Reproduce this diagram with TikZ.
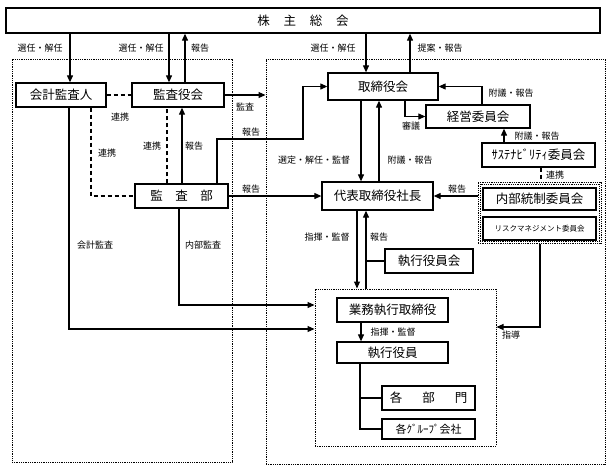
\documentclass[tikz,border=0pt]{standalone}
\usepackage{fontspec}
\newfontfamily\cjk{Noto Sans CJK JP}
\usetikzlibrary{arrows.meta}
\begin{document}
\begin{tikzpicture}[x=1pt,y=-1pt,
  box/.style={draw, line width=1.3pt, inner sep=0pt, font=\cjk\fontsize{12.5}{14}\selectfont},
  tbox/.style={draw, line width=1.8pt, inner sep=0pt},
  lbl/.style={font=\cjk\fontsize{9}{10}\selectfont, inner sep=0pt},
  arr/.style={line width=1.1pt, -{Triangle[length=7pt,width=6pt]}},
  ln/.style={line width=1.1pt},
  dsh/.style={line width=1.2pt, dash pattern=on 4pt off 3pt},
  dotbox/.style={draw, line width=1pt, dash pattern=on 1pt off 0.8pt, inner sep=0pt}]
\useasboundingbox (0,0) rectangle (612,472);

% dotted group boxes
\node[dotbox, minimum width=220pt, minimum height=403pt] (lbox) at (122,260.5) {};
\node[dotbox, minimum width=339pt, minimum height=405pt] (rbox) at (435.5,261.5) {};
\node[dotbox, minimum width=181pt, minimum height=157pt] (ebox) at (405.5,367.5) {};
\node[dotbox, minimum width=123pt, minimum height=61pt] (cbox) at (539.5,212.5) {};
\node[dotbox, minimum width=119pt, minimum height=57pt] (cboxin) at (539.5,212.5) {};

% boxes
\node[box, minimum width=594pt, minimum height=25pt] (sh) at (303,20.5) {株\hspace{1.1em}主\hspace{1.1em}総\hspace{1.1em}会};
\node[box, minimum width=90pt, minimum height=24pt] (kaikei) at (61,95) {会計監査人};
\node[box, minimum width=92pt, minimum height=24pt] (kansayaku) at (178,95) {監査役会};
\node[box, minimum width=110pt, minimum height=27pt] (torishimari) at (383,86.5) {取締役会};
\node[box, minimum width=104pt, minimum height=23pt] (keiei) at (478,116.5) {経営委員会};
\node[box, minimum width=113pt, minimum height=24pt] (sustain) at (538.5,155) {ｻｽﾃﾅﾋﾞﾘﾃｨ委員会};
\node[box, tbox, minimum width=113pt, minimum height=22pt] (naibu) at (539.5,199) {内部統制委員会};
\node[box, tbox, minimum width=113pt, minimum height=23pt, font=\cjk\fontsize{7.5}{9}\selectfont] (risk) at (539.5,228.5) {リスクマネジメント委員会};
\node[box, minimum width=111pt, minimum height=28pt] (daihyo) at (377.5,196) {代表取締役社長};
\node[box, minimum width=93pt, minimum height=24pt] (kansabu) at (181.5,196) {監\hspace{1em}査\hspace{1em}部};
\node[box, minimum width=88pt, minimum height=24pt] (shikkokai) at (429,261) {執行役員会};
\node[box, minimum width=111pt, minimum height=24pt] (gyomu) at (392.5,310) {業務執行取締役};
\node[box, minimum width=111pt, minimum height=21pt] (shikko) at (392.5,352.5) {執行役員};
\node[box, minimum width=93pt, minimum height=24pt] (kakubu) at (428.5,398) {各\hspace{1.6em}部\hspace{1.6em}門};
\node[box, minimum width=93pt, minimum height=20pt, font=\cjk\fontsize{11}{13}\selectfont] (group) at (428.5,429) {各ｸﾞﾙｰﾌﾟ会社};

% connectors
\draw[arr] (70,0 |- sh.south) -- (70,0 |- kaikei.north);
\draw[arr] (169,0 |- sh.south) -- (169,0 |- kansayaku.north);
\draw[arr] (185,0 |- kansayaku.north) -- (185,0 |- sh.south);
\draw[arr] (366,0 |- sh.south) -- (366,0 |- torishimari.north);
\draw[arr] (410,0 |- torishimari.north) -- (410,0 |- sh.south);
\draw[dsh] (kaikei.east) -- (kansayaku.west);
\draw[arr] (kansayaku.east) -- (rbox.west |- kansayaku.east);
\draw[arr] (182,0 |- kansabu.north) -- (182,0 |- kansayaku.south);
\draw[dsh] (167,0 |- kansabu.north) -- (167,0 |- kansayaku.south);
\draw[dsh] (91,0 |- kaikei.south) |- (kansabu.west);
\draw[arr] (217,0 |- kansabu.north) -- (217,139) -- (303,139) |- (torishimari.west);
\draw[arr] (kansabu.east) -- (daihyo.west);
\draw[arr] (69,0 |- kaikei.south) |- (ebox.west |- 0,329);
\draw[arr] (179,0 |- kansabu.south) |- (ebox.west |- 0,305);
\draw[arr] (361,0 |- torishimari.south) -- (361,0 |- daihyo.north);
\draw[arr] (379,0 |- daihyo.north) -- (379,0 |- torishimari.south);
\draw[arr] (405,0 |- torishimari.south) |- (keiei.west);
\draw[arr] (482,0 |- keiei.north) |- (torishimari.east);
\draw[arr] (504,0 |- sustain.north) -- (504,0 |- keiei.south);
\draw[dsh] (541,0 |- sustain.south) -- (541,0 |- cbox.north);
\draw[arr] (cbox.west |- daihyo.east) -- (daihyo.east);
\draw[arr] (540,0 |- cbox.south) |- (ebox.east |- 0,327);
\draw[arr] (357,0 |- daihyo.south) -- (357,0 |- ebox.north);
\draw[arr] (366,0 |- ebox.north) -- (366,0 |- daihyo.south);
\draw[ln] (shikkokai.west) -- (366,0 |- shikkokai.west);
\draw[arr] (361,0 |- gyomu.south) -- (361,0 |- shikko.north);
\draw[ln] (360,0 |- shikko.south) |- (group.west);
\draw[ln] (360,0 |- kakubu.west) -- (kakubu.west);

% labels
\node[lbl] at (40,48) {選任・解任};
\node[lbl] at (141,48) {選任・解任};
\node[lbl] at (200,48) {報告};
\node[lbl] at (333,48) {選任・解任};
\node[lbl] at (440,48) {提案・報告};
\node[lbl] at (120,117) {連携};
\node[lbl] at (107,153) {連携};
\node[lbl] at (152,146) {連携};
\node[lbl] at (194,146) {報告};
\node[lbl] at (245,107) {監査};
\node[lbl] at (251,132) {報告};
\node[lbl] at (251,189) {報告};
\node[lbl] at (314,160) {選定・解任・監督};
\node[lbl] at (410,160) {附議・報告};
\node[lbl] at (411,126) {審議};
\node[lbl] at (511,93) {附議・報告};
\node[lbl] at (537,136) {附議・報告};
\node[lbl] at (555,175) {連携};
\node[lbl] at (457,189) {報告};
\node[lbl] at (95,245) {会計監査};
\node[lbl] at (203,245) {内部監査};
\node[lbl] at (327,237) {指揮・監督};
\node[lbl] at (379,237) {報告};
\node[lbl] at (393,332) {指揮・監督};
\node[lbl] at (511,335) {指導};
\end{tikzpicture}
\end{document}
